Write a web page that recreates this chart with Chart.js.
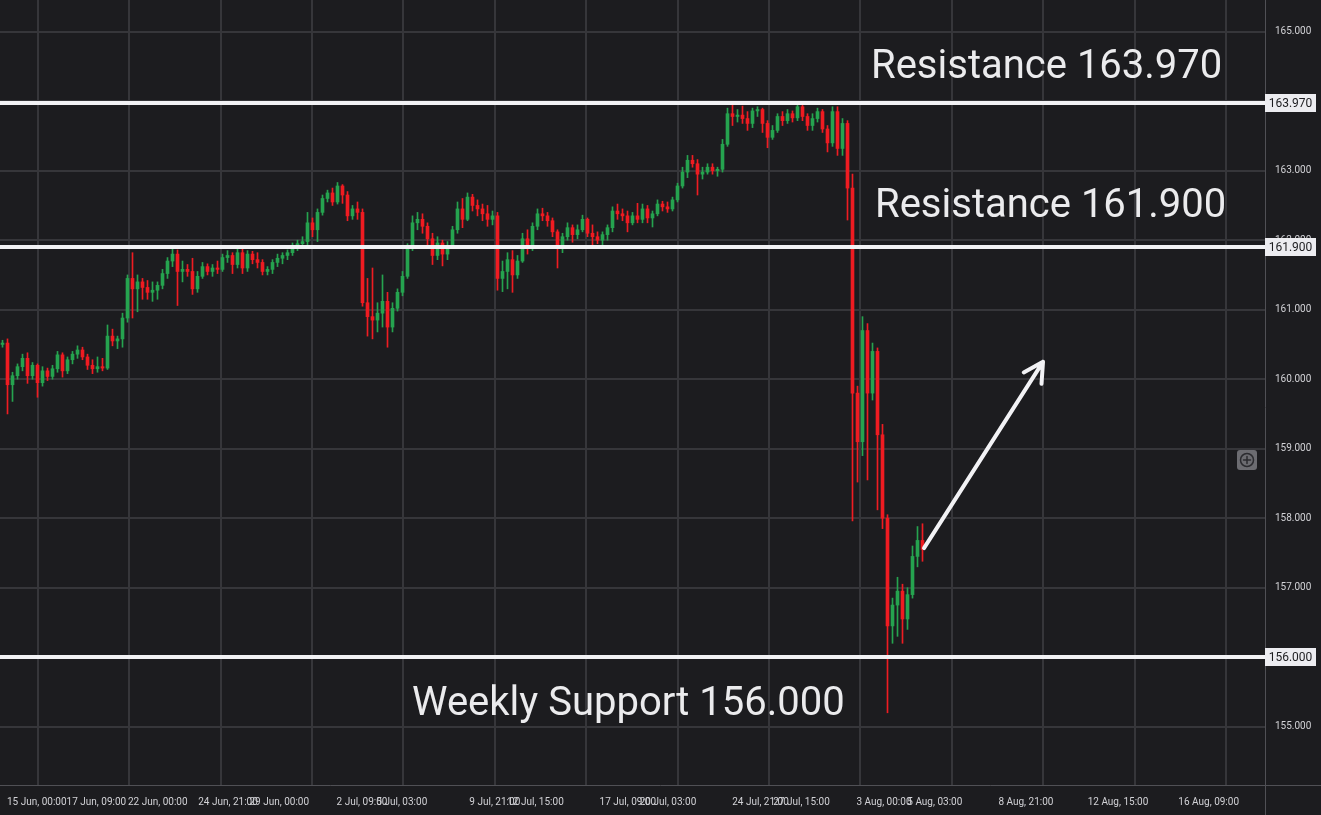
<!DOCTYPE html>
<html>
<head>
<meta charset="utf-8">
<script src="https://cdn.jsdelivr.net/npm/chart.js@4.4.1/dist/chart.umd.min.js"></script>
<style>
  html, body { margin: 0; padding: 0; background: #1c1c1f; }
  #wrap { width: 1321px; height: 815px; }
</style>
</head>
<body>
<div id="wrap"><canvas id="priceChart"></canvas></div>
<script>
// Candles, one every few trading hours
const opens = [
  160.50,160.52,159.92,160.05,160.18,160.30,160.05,160.20,159.95,160.12,
  160.04,160.15,160.35,160.12,160.28,160.36,160.42,160.32,160.20,160.15,
  160.18,160.16,160.62,160.55,160.58,160.88,161.45,161.30,161.40,161.32,
  161.25,161.28,161.35,161.52,161.70,161.80,161.55,161.58,161.55,161.30,
  161.48,161.62,161.55,161.60,161.58,161.75,161.78,161.65,161.82,161.60,
  161.80,161.72,161.68,161.55,161.58,161.68,161.74,161.78,161.82,161.92,
  161.95,161.98,162.25,162.15,162.40,162.60,162.68,162.55,162.78,162.65,
  162.35,162.45,162.40,161.10,160.90,160.85,160.95,161.12,160.75,161.02,
  161.25,161.48,161.88,162.25,162.30,162.20,162.02,161.78,161.96,161.80,
  161.92,162.15,162.45,162.30,162.62,162.50,162.45,162.38,162.30,162.35,
  161.45,161.55,161.72,161.50,161.70,162.02,161.90,162.20,162.38,162.35,
  162.28,162.12,161.88,162.05,162.18,162.08,162.15,162.30,162.10,162.05,
  162.00,162.08,162.18,162.42,162.38,162.35,162.25,162.35,162.30,162.45,
  162.32,162.38,162.52,162.48,162.45,162.58,162.78,162.98,163.15,163.10,
  162.95,162.98,163.05,163.00,163.02,163.38,163.82,163.78,163.80,163.75,
  163.68,163.86,163.88,163.68,163.48,163.58,163.78,163.72,163.82,163.76,
  163.92,163.78,163.65,163.75,163.85,163.60,163.40,163.85,163.32,163.68,
  162.75,159.80,159.10,160.70,159.80,160.40,159.20,158.00,156.45,156.75,
  156.95,156.55,156.90,157.45,157.68
];
const highs = [
  160.56,160.58,160.10,160.22,160.36,160.38,160.24,160.22,160.18,160.16,
  160.20,160.40,160.38,160.32,160.40,160.48,160.46,160.36,160.28,160.32,
  160.30,160.78,160.72,160.62,160.95,161.50,161.82,161.50,161.45,161.42,
  161.40,161.40,161.58,161.75,161.90,161.86,161.70,161.65,161.74,161.55,
  161.68,161.66,161.65,161.70,161.80,161.85,161.82,161.88,161.88,161.85,
  161.84,161.82,161.72,161.62,161.72,161.80,161.82,161.86,161.96,162.00,
  162.05,162.40,162.32,162.45,162.65,162.72,162.75,162.83,162.80,162.70,
  162.50,162.55,162.45,161.45,161.60,161.10,161.50,161.25,161.10,161.30,
  161.55,161.95,162.35,162.40,162.38,162.25,162.10,162.05,162.00,161.98,
  162.20,162.55,162.60,162.68,162.66,162.58,162.52,162.50,162.42,162.40,
  161.70,161.82,161.85,161.78,162.10,162.15,162.25,162.45,162.46,162.40,
  162.32,162.15,162.10,162.25,162.22,162.22,162.36,162.32,162.22,162.12,
  162.12,162.22,162.48,162.52,162.45,162.42,162.40,162.53,162.52,162.50,
  162.42,162.58,162.56,162.55,162.62,162.82,163.05,163.22,163.22,163.16,
  163.05,163.10,163.10,163.05,163.45,163.90,163.96,163.88,163.93,163.85,
  163.90,163.92,163.90,163.72,163.65,163.82,163.85,163.88,163.86,163.98,
  163.95,163.82,163.82,163.90,163.88,163.65,163.92,163.92,163.75,163.72,
  162.95,159.90,160.90,160.80,160.52,160.45,159.35,158.05,156.85,157.15,
  157.05,157.00,157.60,157.88,157.92
];
const lows = [
  160.46,159.50,159.68,160.00,160.12,159.94,160.00,159.74,159.90,159.98,
  160.00,160.10,160.03,160.08,160.22,160.30,160.28,160.14,160.08,160.10,
  160.12,160.14,160.48,160.44,160.46,160.82,160.88,160.97,161.15,161.15,
  161.12,161.15,161.30,161.45,161.62,161.06,161.40,161.48,161.22,161.25,
  161.45,161.50,161.48,161.52,161.55,161.68,161.52,161.60,161.52,161.55,
  161.66,161.60,161.50,161.50,161.52,161.62,161.66,161.72,161.78,161.85,
  161.88,161.92,162.05,161.98,162.36,162.55,162.50,162.52,162.53,162.28,
  162.30,162.30,161.05,160.62,160.58,160.68,160.75,160.46,160.68,160.98,
  161.20,161.45,161.85,162.15,162.10,161.90,161.65,161.72,161.63,161.72,
  161.88,162.10,162.18,162.28,162.42,162.35,162.28,162.20,162.22,161.28,
  161.26,161.30,161.25,161.45,161.68,161.80,161.85,162.15,162.28,162.20,
  162.05,161.60,161.82,162.00,161.97,162.02,162.12,162.05,161.93,161.95,
  161.92,162.00,162.12,162.30,162.28,162.12,162.22,162.25,162.25,162.25,
  162.19,162.35,162.42,162.40,162.42,162.55,162.75,162.90,163.05,162.65,
  162.88,162.95,162.95,162.92,162.98,163.35,163.65,163.70,163.68,163.58,
  163.62,163.78,163.55,163.33,163.45,163.55,163.65,163.68,163.70,163.72,
  163.72,163.58,163.58,163.70,163.55,163.27,163.35,163.22,163.22,162.29,
  157.96,158.52,158.90,158.55,159.70,158.12,157.85,155.20,156.20,156.30,
  156.20,156.40,156.85,157.30,157.38
];
const closes = [
  160.52,159.92,160.05,160.18,160.30,160.05,160.20,159.95,160.12,160.04,
  160.15,160.35,160.12,160.28,160.36,160.42,160.32,160.20,160.15,160.18,
  160.16,160.62,160.55,160.58,160.88,161.45,161.30,161.40,161.32,161.25,
  161.28,161.35,161.52,161.70,161.80,161.55,161.58,161.55,161.30,161.48,
  161.62,161.55,161.60,161.58,161.75,161.78,161.65,161.82,161.60,161.80,
  161.72,161.68,161.55,161.58,161.68,161.74,161.78,161.82,161.92,161.95,
  161.98,162.25,162.15,162.40,162.60,162.68,162.55,162.78,162.65,162.35,
  162.45,162.40,161.10,160.90,160.85,160.95,161.12,160.75,161.02,161.25,
  161.48,161.88,162.25,162.30,162.20,162.02,161.78,161.96,161.80,161.92,
  162.15,162.45,162.30,162.62,162.50,162.45,162.38,162.30,162.35,161.45,
  161.55,161.72,161.50,161.70,162.02,161.90,162.20,162.38,162.35,162.28,
  162.12,161.88,162.05,162.18,162.08,162.15,162.30,162.10,162.05,162.00,
  162.08,162.18,162.42,162.38,162.35,162.25,162.35,162.30,162.45,162.32,
  162.38,162.52,162.48,162.45,162.58,162.78,162.98,163.15,163.10,162.95,
  162.98,163.05,163.00,163.02,163.38,163.82,163.78,163.80,163.75,163.68,
  163.86,163.88,163.68,163.48,163.58,163.78,163.72,163.82,163.76,163.92,
  163.78,163.65,163.75,163.85,163.60,163.40,163.85,163.32,163.68,162.75,
  159.80,159.10,160.70,159.80,160.40,159.20,158.00,156.45,156.75,156.95,
  156.55,156.90,157.45,157.68,157.55
];

// Time axis: label text and where it sits (in candle slots)
const timeLabels = [
  '15 Jun, 00:00', '17 Jun, 09:00', '22 Jun, 00:00', '24 Jun, 21:00', '29 Jun, 00:00',
  '2 Jul, 09:00', '5 Jul, 03:00', '9 Jul, 21:00', '12 Jul, 15:00', '17 Jul, 09:00',
  '20 Jul, 03:00', '24 Jul, 21:00', '27 Jul, 15:00', '3 Aug, 00:00', '5 Aug, 03:00',
  '8 Aug, 21:00', '12 Aug, 15:00', '16 Aug, 09:00'
];
const timeLabelSlots = [
  6.86, 18.78, 31.06, 45.1, 55.36, 71.9, 79.86, 98.46, 106.6, 125.06,
  133.1, 151.6, 159.8, 176.3, 186.46, 204.68, 223.1, 241.24
];
const priceTicks = [155, 156, 157, 158, 159, 160, 161, 162, 163, 164, 165];

// Horizontal levels and their captions
const levels = [163.970, 161.900, 156.000];
const levelNotes = ['Resistance 163.970', 'Resistance 161.900', 'Weekly Support 156.000'];

// Vertical grid every 18.28 slots
const gridStart = 7.04, gridStep = 18.28, gridCount = 14;
const gridSlots = Array.from({ length: gridCount }, (_, k) => gridStart + k * gridStep);

const UP = '#26a34f', DOWN = '#ef1c22';
const colors = closes.map((c, i) => (c >= opens[i] ? UP : DOWN));

// Caption anchors (slot of left edge, price of baseline), arrow ends
const notePos = [
  { slot: 173.7, price: 164.33 },
  { slot: 174.5, price: 162.34 },
  { slot: 81.9, price: 155.175 }
];
const arrowFrom = { slot: 184.3, price: 157.57 };
const arrowTo = { slot: 208.1, price: 160.25 };

const overlay = {
  id: 'overlay',
  beforeDraw(chart) {
    const ctx = chart.ctx;
    ctx.save();
    ctx.fillStyle = '#1c1c1f';
    ctx.fillRect(0, 0, chart.width, chart.height);
    ctx.restore();
  },
  afterDatasetsDraw(chart) {
    const { ctx, chartArea: a } = chart;
    const x = chart.scales.x, y = chart.scales.y;
    ctx.save();

    // level lines
    ctx.strokeStyle = '#f2f2f5';
    ctx.lineWidth = 4;
    levels.forEach(v => {
      const py = Math.round(y.getPixelForValue(v));
      ctx.beginPath();
      ctx.moveTo(a.left, py);
      ctx.lineTo(a.right, py);
      ctx.stroke();
    });

    // arrow
    const fx = x.getPixelForValue(arrowFrom.slot), fy = y.getPixelForValue(arrowFrom.price);
    const tx = x.getPixelForValue(arrowTo.slot), ty = y.getPixelForValue(arrowTo.price);
    const ang = Math.atan2(ty - fy, tx - fx);
    ctx.lineCap = 'round';
    ctx.lineJoin = 'round';
    ctx.beginPath();
    ctx.moveTo(fx, fy);
    ctx.lineTo(tx, ty);
    ctx.moveTo(tx + 22 * Math.cos(ang + Math.PI - 0.5), ty + 22 * Math.sin(ang + Math.PI - 0.5));
    ctx.lineTo(tx, ty);
    ctx.lineTo(tx + 22 * Math.cos(ang + Math.PI + 0.5), ty + 22 * Math.sin(ang + Math.PI + 0.5));
    ctx.stroke();

    // captions
    ctx.font = '40px Roboto';
    ctx.fillStyle = '#ebebed';
    ctx.textAlign = 'left';
    ctx.textBaseline = 'alphabetic';
    levelNotes.forEach((t, i) => {
      ctx.fillText(t, x.getPixelForValue(notePos[i].slot), y.getPixelForValue(notePos[i].price));
    });

    // zoom button
    const bx = a.right - 28, by = Math.round(y.getPixelForValue(159)) + 1;
    ctx.fillStyle = '#6c6c71';
    ctx.beginPath();
    ctx.roundRect(bx, by, 20, 20, 3);
    ctx.fill();
    ctx.strokeStyle = '#2b2b2f';
    ctx.lineWidth = 1.5;
    ctx.beginPath();
    ctx.arc(bx + 10, by + 10, 6.5, 0, Math.PI * 2);
    ctx.moveTo(bx + 6.5, by + 10); ctx.lineTo(bx + 13.5, by + 10);
    ctx.moveTo(bx + 10, by + 6.5); ctx.lineTo(bx + 10, by + 13.5);
    ctx.stroke();
    ctx.restore();
  },
  afterDraw(chart) {
    const { ctx, chartArea: a } = chart;
    const y = chart.scales.y;
    ctx.save();
    // axis borders
    ctx.strokeStyle = '#505055';
    ctx.lineWidth = 1;
    ctx.beginPath();
    ctx.moveTo(a.right + 0.5, 0); ctx.lineTo(a.right + 0.5, chart.height);
    ctx.moveTo(0, a.bottom + 0.5); ctx.lineTo(chart.width, a.bottom + 0.5);
    ctx.stroke();
    // level price tags
    ctx.font = '12px Roboto';
    ctx.textAlign = 'center';
    ctx.textBaseline = 'middle';
    levels.forEach(v => {
      const py = Math.round(y.getPixelForValue(v));
      ctx.fillStyle = '#ececf0';
      ctx.fillRect(a.right, py - 9, 51, 18);
      ctx.fillStyle = '#1c1c1f';
      ctx.fillText(v.toFixed(3), a.right + 25.5, py + 0.5);
    });
    ctx.restore();
  }
};

const ctx = document.getElementById('priceChart').getContext('2d');
new Chart(ctx, {
  type: 'bar',
  data: {
    datasets: [
      {
        label: 'wick',
        data: highs.map((h, i) => ({ x: i, y: [lows[i], h] })),
        backgroundColor: colors,
        barThickness: 1,
        grouped: false,
        borderWidth: 0
      },
      {
        label: 'body',
        data: opens.map((o, i) => ({ x: i, y: [Math.min(o, closes[i]), Math.max(o, closes[i])] })),
        backgroundColor: colors,
        barThickness: 3,
        grouped: false,
        borderWidth: 0
      }
    ]
  },
  options: {
    responsive: true,
    maintainAspectRatio: false,
    devicePixelRatio: 1,
    animation: false,
    events: [],
    layout: { padding: 0 },
    plugins: {
      legend: { display: false },
      tooltip: { enabled: false }
    },
    scales: {
      x: {
        type: 'linear',
        position: 'bottom',
        offset: false,
        min: -0.5,
        max: 252.5,
        grid: { color: '#36363a', lineWidth: 2, drawTicks: false, offset: false },
        border: { display: false },
        ticks: { display: false },
        afterBuildTicks: s => { s.ticks = gridSlots.map(v => ({ value: v })); },
        afterFit: s => { s.height = 0; s.paddingLeft = 0; s.paddingRight = 0; }
      },
      xl: {
        type: 'linear',
        position: 'bottom',
        offset: false,
        min: -0.5,
        max: 252.5,
        grid: { display: false, drawTicks: false, offset: false },
        border: { display: false },
        ticks: {
          autoSkip: false,
          maxRotation: 0,
          minRotation: 0,
          padding: 11,
          color: '#d2d2d6',
          font: { family: 'Roboto', size: 10 },
          callback: (v, i) => timeLabels[i]
        },
        afterBuildTicks: s => { s.ticks = timeLabelSlots.map(v => ({ value: v })); },
        afterFit: s => { s.height = 30; s.paddingLeft = 0; s.paddingRight = 0; }
      },
      y: {
        position: 'right',
        min: 154.161,
        max: 165.456,
        grid: { color: '#36363a', lineWidth: 2, drawTicks: false },
        border: { display: false },
        ticks: {
          padding: 10,
          color: '#d2d2d6',
          font: { family: 'Roboto', size: 10 },
          callback: v => Number(v).toFixed(3)
        },
        afterBuildTicks: s => { s.ticks = priceTicks.map(v => ({ value: v })); },
        afterFit: s => { s.width = 56; s.paddingTop = 0; s.paddingBottom = 0; }
      }
    }
  },
  plugins: [overlay]
});
</script>
</body>
</html>
